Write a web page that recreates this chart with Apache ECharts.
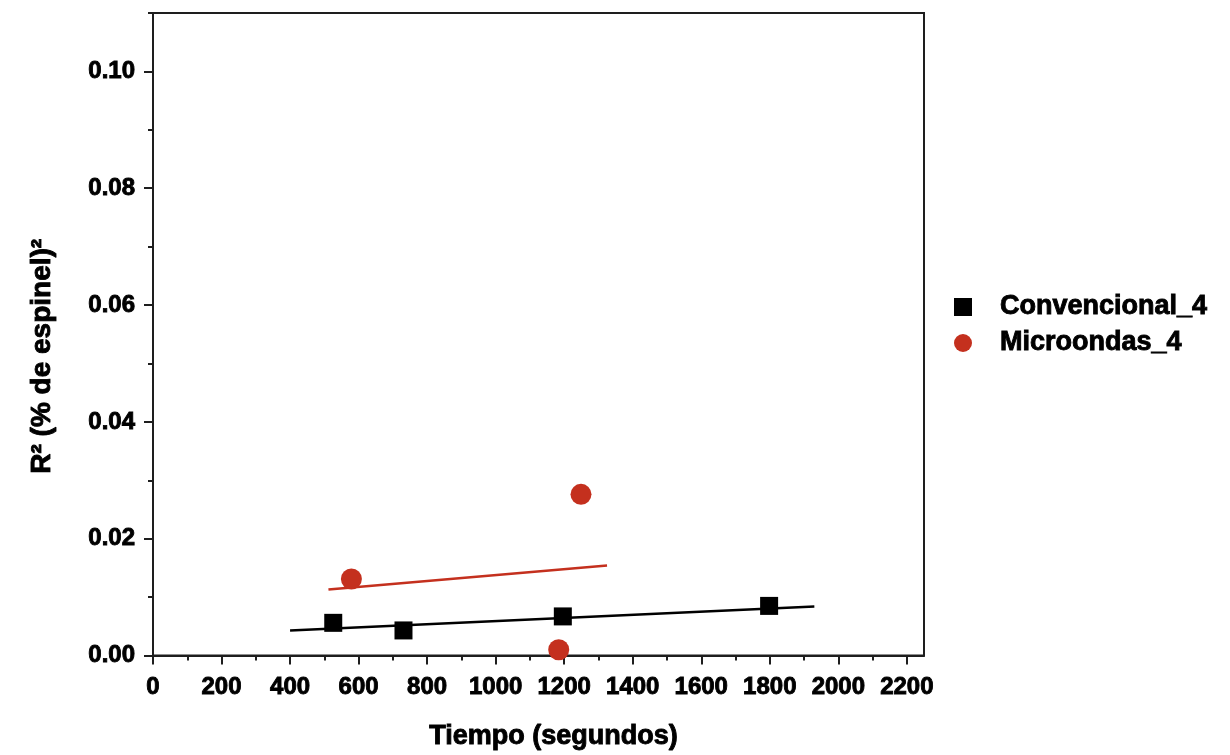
<!DOCTYPE html>
<html>
<head>
<meta charset="utf-8">
<title>R² vs Tiempo</title>
<script src="https://cdn.jsdelivr.net/npm/echarts@6/dist/echarts.min.js"></script>
<style>
  html, body { margin: 0; padding: 0; background: #fff; }
  #chart { width: 1230px; height: 755px; }
</style>
</head>
<body>
<div id="chart"></div>
<script>
// Measured points (time in seconds, R² of spinel %)
const convX = [526, 731, 1196, 1798];
const convY = [0.0056, 0.0043, 0.0067, 0.0085];
const microX = [579, 1249, 1184];
const microY = [0.0131, 0.0276, 0.0010];

// Linear fit end points for each series
const convFitX = [400, 1930];
const convFitY = [0.0043, 0.0084];
const microFitX = [512, 1325];
const microFitY = [0.0113, 0.0154];

// Tick values
const xMajor = [0, 200, 400, 600, 800, 1000, 1200, 1400, 1600, 1800, 2000, 2200];
const xMinor = [100, 300, 500, 700, 900, 1100, 1300, 1500, 1700, 1900, 2100];
const yMajor = [0, 0.02, 0.04, 0.06, 0.08, 0.10];
const yMinor = [0.01, 0.03, 0.05, 0.07, 0.09, 0.11];

const seriesNames = ['Convencional_4', 'Microondas_4'];

const zip = (xs, ys) => xs.map((x, i) => [x, ys[i]]);

const FONT = 'Liberation Sans, Arial, Helvetica, sans-serif';
const AXIS = '#1e1e1e';
const RED = '#c4301e';

// heavy bold text shared by labels and titles
const heavy = (size) => ({
  fontFamily: FONT, fontSize: size, fontWeight: 'bold', color: '#000',
  textBorderColor: '#000', textBorderWidth: 0.9
});

const chart = echarts.init(document.getElementById('chart'), null, { renderer: 'canvas' });

chart.setOption({
  animation: false,
  backgroundColor: '#ffffff',
  textStyle: { fontFamily: FONT, color: '#000' },
  grid: {
    left: 153, right: 306, top: 13, bottom: 98,
    show: true, borderColor: AXIS, borderWidth: 2, backgroundColor: 'transparent'
  },
  legend: {
    data: seriesNames,
    orient: 'vertical',
    left: 949,
    top: 286,
    itemWidth: 18,
    itemHeight: 18,
    itemGap: 4,
    textStyle: Object.assign(heavy(27), { lineHeight: 32, padding: [0, 0, 0, 23] })
  },
  xAxis: [
    {
      type: 'value', min: 0, max: 2250, position: 'bottom',
      name: 'Tiempo (segundos)', nameLocation: 'middle', nameGap: 67,
      nameTextStyle: Object.assign(heavy(27), { padding: [0, 0, 0, 30] }),
      axisLine: { show: true, onZero: false, lineStyle: { color: AXIS, width: 2 } },
      axisTick: { show: true, customValues: xMajor, length: 9, lineStyle: { color: AXIS, width: 2 } },
      axisLabel: Object.assign(heavy(24), {
        customValues: xMajor, margin: 20,
        formatter: v => String(Math.round(v))
      }),
      splitLine: { show: false }
    },
    {
      type: 'value', min: 0, max: 2250, position: 'bottom',
      axisLine: { show: false },
      axisTick: { show: true, customValues: xMinor, length: 5, lineStyle: { color: AXIS, width: 2 } },
      axisLabel: { show: false },
      splitLine: { show: false }
    }
  ],
  yAxis: [
    {
      type: 'value', min: 0, max: 0.11, position: 'left',
      name: 'R² (% de espinel)²', nameLocation: 'middle', nameGap: 97, nameRotate: 90,
      nameTextStyle: Object.assign(heavy(28), { padding: [0, 44, 0, 0] }),
      axisLine: { show: true, onZero: false, lineStyle: { color: AXIS, width: 2 } },
      axisTick: { show: true, customValues: yMajor, length: 9, lineStyle: { color: AXIS, width: 2 } },
      axisLabel: Object.assign(heavy(24), {
        customValues: yMajor, margin: 18,
        formatter: v => v.toFixed(2)
      }),
      splitLine: { show: false }
    },
    {
      type: 'value', min: 0, max: 0.11, position: 'left',
      axisLine: { show: false },
      axisTick: { show: true, customValues: yMinor, length: 5, lineStyle: { color: AXIS, width: 2 } },
      axisLabel: { show: false },
      splitLine: { show: false }
    }
  ],
  series: [
    {
      name: 'fit_conv', type: 'line', xAxisIndex: 0, yAxisIndex: 0,
      data: zip(convFitX, convFitY), symbol: 'none', silent: true,
      lineStyle: { color: '#000', width: 2.5 }, z: 2
    },
    {
      name: 'fit_micro', type: 'line', xAxisIndex: 0, yAxisIndex: 0,
      data: zip(microFitX, microFitY), symbol: 'none', silent: true,
      lineStyle: { color: RED, width: 2.5 }, z: 2
    },
    {
      name: seriesNames[0], type: 'scatter', xAxisIndex: 0, yAxisIndex: 0,
      data: zip(convX, convY), symbol: 'rect', symbolSize: 18,
      itemStyle: { color: '#000', opacity: 1 }, z: 3
    },
    {
      name: seriesNames[1], type: 'scatter', xAxisIndex: 0, yAxisIndex: 0,
      data: zip(microX, microY), symbol: 'circle', symbolSize: 21,
      itemStyle: { color: RED, opacity: 1 }, z: 3
    }
  ]
});
</script>
</body>
</html>
